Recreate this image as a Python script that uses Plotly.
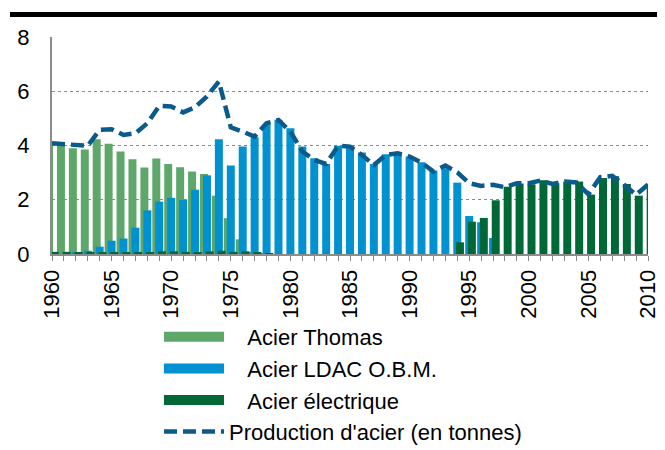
import plotly.graph_objects as go

years = list(range(1960, 2011))

thomas = [4.10, 4.05, 3.90, 3.85, 4.23, 4.06, 3.78, 3.49, 3.19, 3.52,
          3.32, 3.20, 3.04, 2.95, 2.15, 1.32, 0.54, 0.05, 0.02, 0,
          0, 0, 0, 0, 0, 0, 0, 0, 0, 0,
          0, 0, 0, 0, 0, 0, 0, 0, 0, 0,
          0, 0, 0, 0, 0, 0, 0, 0, 0, 0, 0]

ldac = [0.00, 0.00, 0.05, 0.12, 0.27, 0.49, 0.57, 0.97, 1.61, 1.93,
        2.07, 1.99, 2.37, 2.90, 4.23, 3.26, 3.96, 4.30, 4.78, 4.95,
        4.64, 3.96, 3.53, 3.32, 3.99, 3.99, 3.74, 3.32, 3.68, 3.71,
        3.59, 3.38, 3.08, 3.16, 2.63, 1.40, 1.17, 0.59, 0, 0,
        0, 0, 0, 0, 0, 0, 0, 0, 0, 0, 0]

electrique = [0.08, 0.08, 0.06, 0.07, 0.07, 0.06, 0.06, 0.06, 0.07, 0.10,
              0.10, 0.08, 0.07, 0.10, 0.12, 0.08, 0.10, 0.04, 0.02, 0,
              0, 0, 0, 0, 0, 0, 0, 0, 0, 0,
              0, 0, 0, 0, 0.43, 1.19, 1.33, 1.98, 2.48, 2.60,
              2.57, 2.72, 2.61, 2.67, 2.67, 2.19, 2.80, 2.87, 2.58, 2.15, 2.56]

production = [4.08, 4.05, 3.99, 3.99, 4.58, 4.60, 4.39, 4.45, 4.82, 5.46,
              5.44, 5.22, 5.41, 5.81, 6.36, 4.67, 4.51, 4.33, 4.82, 4.94,
              4.51, 3.78, 3.47, 3.32, 3.99, 3.96, 3.65, 3.28, 3.65, 3.71,
              3.59, 3.37, 3.04, 3.26, 3.01, 2.61, 2.51, 2.55, 2.46, 2.61,
              2.61, 2.71, 2.58, 2.67, 2.64, 2.20, 2.83, 2.88, 2.55, 2.18, 2.56]

names = ["Acier Thomas", "Acier LDAC O.B.M.", "Acier électrique",
         "Production d'acier (en tonnes)"]
tick_vals_x = list(range(1960, 2011, 5))
tick_vals_y = [0, 2, 4, 6, 8]

C_THOMAS = "#5DA76A"
C_LDAC = "#0092D0"
C_ELEC = "#006837"
C_PROD = "#0B5A8C"
FONT = "Liberation Sans, Arial, sans-serif"
FS = 22

# page has an 8px body margin: figure is 657x442 placed at (8, 8)
W, H = 657, 442
PL, PR, PT, PB = 44, 640, 29, 246  # plot area in figure pixels
PW, PH = PR - PL, PB - PT

BW = 0.67
fig = go.Figure()
for vals, col, off in [(thomas, C_THOMAS, -0.25), (ldac, C_LDAC, 0.0), (electrique, C_ELEC, 0.226)]:
    fig.add_trace(go.Bar(x=years, y=vals, width=BW, offset=off - BW / 2,
                         marker=dict(color=col, line=dict(width=0)),
                         showlegend=False, hoverinfo="x+y"))

DASH = "13px,6px"
fig.add_trace(go.Scatter(x=years, y=production, mode="lines",
                         line=dict(color=C_PROD, width=4.5, dash=DASH),
                         showlegend=False))

# legend entries
pad = "\u00a0\u00a0\u00a0"
for nm, col in zip(names[:3], [C_THOMAS, C_LDAC, C_ELEC]):
    fig.add_trace(go.Scatter(x=[None], y=[None], mode="lines", name=pad + nm,
                             line=dict(color=col, width=12)))
fig.add_trace(go.Scatter(x=[None], y=[None], mode="lines", name=names[3],
                         line=dict(color=C_PROD, width=4.5, dash=DASH)))

fig.update_layout(
    width=W, height=H,
    margin=dict(l=PL, r=W - PR, t=PT, b=H - PB, autoexpand=False),
    paper_bgcolor="white", plot_bgcolor="white",
    barmode="overlay",
    font=dict(family=FONT, size=FS, color="black"),
    showlegend=True,
    legend=dict(x=(151 - PL) / PW, y=(PB - 308) / PH, xanchor="left", yanchor="top",
                orientation="v", itemwidth=60, tracegroupgap=0,
                font=dict(family=FONT, size=FS, color="black"),
                bgcolor="rgba(0,0,0,0)"),
    xaxis=dict(range=[1960, 2010], tickmode="array", tickvals=tick_vals_x,
               ticktext=[str(v) for v in tick_vals_x], tickangle=-90,
               ticks="outside", ticklen=5, tickcolor="#888888", tickwidth=1,
               minor=dict(dtick=1, tick0=1960, ticks="outside", ticklen=5,
                          tickcolor="#888888", tickwidth=1, showgrid=False),
               showline=True, linecolor="#8C8C8C", linewidth=2,
               showgrid=False, zeroline=False,
               tickfont=dict(family=FONT, size=FS, color="black")),
    yaxis=dict(range=[0, 8], tickvals=tick_vals_y, ticks="",
               showline=True, linecolor="#8C8C8C", linewidth=2,
               showgrid=True, gridcolor="#8C8C8C", griddash="dot", gridwidth=1,
               zeroline=False, ticklabelstandoff=16,
               tickfont=dict(family=FONT, size=FS, color="black")),
    shapes=[dict(type="rect", xref="paper", yref="paper",
                 x0=(2 - PL) / PW, x1=(W - PL) / PW,
                 y0=(PB - 9) / PH, y1=(PB - 4) / PH,
                 fillcolor="black", line=dict(width=0), layer="above")],
)

fig.write_html("out.html")
